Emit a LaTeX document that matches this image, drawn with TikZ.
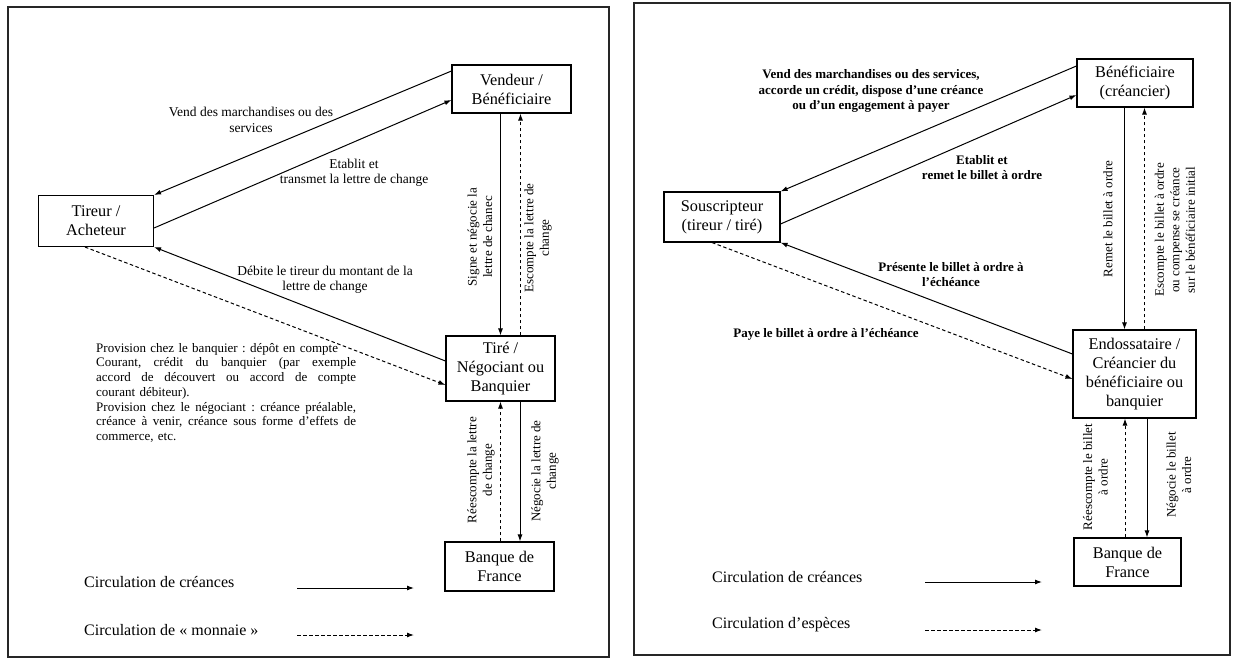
\documentclass[tikz,border=0pt]{standalone}
\usepackage{fontspec}
\setmainfont{Liberation Serif}
\usetikzlibrary{arrows.meta,calc}
\frenchspacing
\newcommand\jline[1]{\leavevmode\hbox to 260pt{#1}}
\begin{document}
\begin{tikzpicture}[x=1pt,y=-1pt,
  box/.style={draw,line width=1.1pt,inner sep=0pt,align=center,font=\fontsize{16.3}{19}\selectfont},
  lbl/.style={align=center,inner sep=0pt,font=\fontsize{13.5}{15.5}\selectfont},
  rlbl/.style={align=center,inner sep=0pt,rotate=90,font=\fontsize{13}{15.5}\selectfont},
  blbl/.style={align=center,inner sep=0pt,font=\fontsize{13}{15.5}\selectfont\bfseries},
  cre/.style={line width=1pt,-{Latex[length=7pt,width=5pt]}},
  esp/.style={cre,dash pattern=on 3.5pt off 2.5pt},
  frame/.style={line width=1.2pt,draw=black!85},
  leg/.style={anchor=west,inner sep=0pt,font=\fontsize{16}{19}\selectfont}]
\useasboundingbox (0,0) rectangle (1234,663);
\fill[white] (0,0) rectangle (1234,663);

% ---------------- left panel ----------------
\draw[frame] (8,7) rectangle (609,657);

\node[box,minimum width=115pt,minimum height=51pt] (tireur) at (96,221) {Tireur /\\Acheteur};
\node[box,minimum width=119pt,minimum height=48pt] (vend) at (511.5,89) {Vendeur /\\Bénéficiaire};
\node[box,minimum width=109pt,minimum height=65pt] (tire) at (500.5,368.5) {Tiré /\\Négociant ou\\Banquier};
\node[box,minimum width=109pt,minimum height=49pt] (bdf) at (499.5,566.5) {Banque de\\France};

\draw[cre] ([yshift=18pt]vend.west) -- (tireur.north east);
\draw[cre] ([yshift=-7pt]tireur.east) -- ([yshift=-11pt]vend.west);
\draw[cre] ([yshift=7.5pt]tire.west) -- (tireur.south east);
\draw[esp] ([xshift=-11pt]tireur.south) -- ([yshift=-16.5pt]tire.west);
\draw[cre] (tire.north |- vend.south) -- (tire.north);
\draw[esp] ([xshift=20pt]tire.north) -- ([xshift=20pt]tire.north |- vend.south);
\draw[cre] ([xshift=19.5pt]tire.south) -- ([xshift=19.5pt]tire.south |- bdf.north);
\draw[esp] (tire.south |- bdf.north) -- (tire.south);

\node[lbl] (la) at (251,120) {Vend des marchandises ou des\\services};
\node[lbl] (lb) at (354,173) {Etablit et\\transmet la lettre de change};
\node[lbl] (lc) at (325,280) {Débite le tireur du montant de la\\lettre de change};
\node[rlbl] (ld) at (480,237) {Signe et négocie la\\lettre de chanec};
\node[rlbl] (le) at (538,238) {Escompte la lettre de\\change};
\node[rlbl] (lf) at (481,470) {Réescompte la lettre\\de change};
\node[rlbl] (lg) at (545,471) {Négocie la lettre de\\change};

\node[anchor=north west,inner sep=0pt,text width=260pt,align=left,
      font=\fontsize{13}{14.7}\selectfont] (prov) at (96,343)
  {Provision chez le banquier : dépôt en compte\\
   \jline{Courant,\hfill crédit\hfill du\hfill banquier\hfill (par\hfill exemple}\\
   \jline{accord\hfill de\hfill découvert\hfill ou\hfill accord\hfill de\hfill compte}\\
   courant débiteur).\\
   \jline{Provision\hfill chez\hfill le\hfill négociant\hfill :\hfill créance\hfill préalable,}\\
   \jline{créance\hfill à\hfill venir,\hfill créance\hfill sous\hfill forme\hfill d’effets\hfill de}\\
   commerce, etc.};

\node[leg] (lg1) at (84,582) {Circulation de créances};
\coordinate (lg1a) at (297,588); \coordinate (lg1b) at (414,588);
\draw[cre] (lg1a) -- (lg1b);
\node[leg] (lg2) at (84,630) {Circulation de « monnaie »};
\coordinate (lg2a) at (297,635); \coordinate (lg2b) at (414,635);
\draw[esp] (lg2a) -- (lg2b);

% ---------------- right panel ----------------
\draw[frame] (634,3) rectangle (1230,655);

\node[box,minimum width=116pt,minimum height=48pt] (ben) at (1135,83) {Bénéficiaire\\(créancier)};
\node[box,minimum width=116pt,minimum height=50pt] (sous) at (722,217) {Souscripteur\\(tireur / tiré)};
\node[box,minimum width=123pt,minimum height=88pt] (endo) at (1134.5,374) {Endossataire /\\Créancier du\\bénéficiaire ou\\banquier};
\node[box,minimum width=107pt,minimum height=48pt] (bdfb) at (1127.5,562) {Banque de\\France};

\draw[cre] ([yshift=17pt]ben.west) -- (sous.north east);
\draw[cre] ([yshift=-7pt]sous.east) -- ([yshift=-12pt]ben.west);
\draw[cre] ([yshift=20pt]endo.west) -- (sous.south east);
\draw[esp] ([xshift=-10pt]sous.south) -- ([yshift=-5pt]endo.west);
\draw[cre] ([xshift=-10pt]endo.north |- ben.south) -- ([xshift=-10pt]endo.north);
\draw[esp] ([xshift=10pt]endo.north) -- ([xshift=10pt]endo.north |- ben.south);
\draw[cre] ([xshift=12.5pt]endo.south) -- ([xshift=12.5pt]endo.south |- bdfb.north);
\draw[esp] ([xshift=-9.5pt]endo.south |- bdfb.north) -- ([xshift=-9.5pt]endo.south);

\node[blbl] (ra) at (871,91) {Vend des marchandises ou des services,\\accorde un crédit, dispose d’une créance\\ou d’un engagement à payer};
\node[blbl] (rb) at (982,167.5) {Etablit et\\remet le billet à ordre};
\node[blbl] (rc) at (951,274.5) {Présente le billet à ordre à\\l’échéance};
\node[blbl] (rd) at (826,334) {Paye le billet à ordre à l’échéance};
\node[rlbl] (re) at (1108,219) {Remet le billet à ordre};
\node[rlbl] (rf) at (1175,230) {Escompte le billet à ordre\\ou compense se créance\\sur le bénéficiaire initial};
\node[rlbl] (rg) at (1095.5,477) {Réescompte le billet\\à ordre};
\node[rlbl] (rh) at (1179,475) {Négocie le billet\\à ordre};

\node[leg] (rl1) at (712,577) {Circulation de créances};
\coordinate (rl1a) at (925,582); \coordinate (rl1b) at (1042,582);
\draw[cre] (rl1a) -- (rl1b);
\node[leg] (rl2) at (712,625) {Circulation d’espèces};
\coordinate (rl2a) at (925,630); \coordinate (rl2b) at (1042,630);
\draw[esp] (rl2a) -- (rl2b);
\end{tikzpicture}
\end{document}
